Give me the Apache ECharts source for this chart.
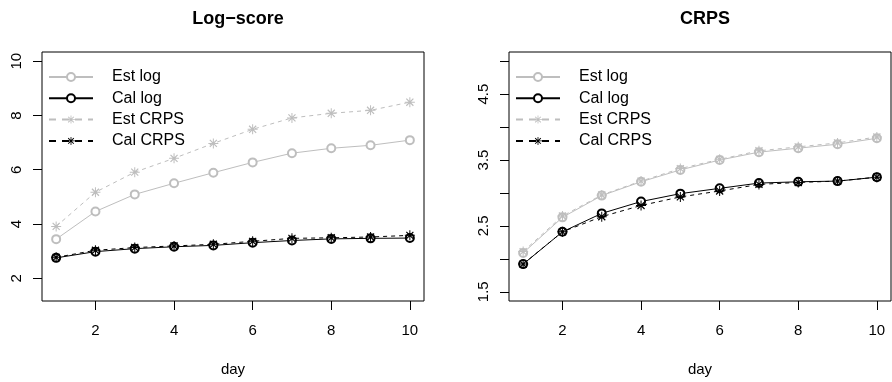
<!DOCTYPE html>
<html>
<head>
<meta charset="utf-8">
<script src="https://cdn.jsdelivr.net/npm/echarts@6/dist/echarts.min.js"></script>
</head>
<body style="margin:0">
<div id="main" style="width:892px;height:382px"></div>
<script>
// days on the x axis
var days = [1, 2, 3, 4, 5, 6, 7, 8, 9, 10];
var seriesNames = ['Est log', 'Cal log', 'Est CRPS', 'Cal CRPS'];

// left panel: Log-score
var logEstLog  = [3.44, 4.46, 5.09, 5.50, 5.89, 6.27, 6.61, 6.79, 6.90, 7.09];
var logCalLog  = [2.75, 2.98, 3.09, 3.16, 3.21, 3.31, 3.39, 3.45, 3.47, 3.48];
var logEstCrps = [3.91, 5.17, 5.91, 6.42, 6.97, 7.49, 7.91, 8.08, 8.19, 8.49];
var logCalCrps = [2.77, 3.03, 3.13, 3.19, 3.25, 3.36, 3.47, 3.49, 3.52, 3.58];

// right panel: CRPS
var crpsEstLog  = [2.09, 2.63, 2.96, 3.17, 3.35, 3.50, 3.62, 3.68, 3.74, 3.83];
var crpsCalLog  = [1.92, 2.41, 2.69, 2.87, 2.99, 3.07, 3.15, 3.17, 3.18, 3.24];
var crpsEstCrps = [2.11, 2.65, 2.97, 3.18, 3.37, 3.51, 3.64, 3.70, 3.76, 3.85];
var crpsCalCrps = [1.92, 2.41, 2.64, 2.81, 2.94, 3.03, 3.13, 3.16, 3.18, 3.24];

// tick values
var xTicks = [2, 4, 6, 8, 10];
var logTicks = [2, 4, 6, 8, 10];
var crpsTicks = [1.5, 2, 2.5, 3, 3.5, 4, 4.5, 5];
var crpsTickLabels = [1.5, 2.5, 3.5, 4.5];

var FONT = 'Liberation Sans';
var GRAY = '#bebebe';
// asterisk like R pch 8
var STAR = 'path://M9 0L11 0L11 20L9 20Z M0 9L20 9L20 11L0 11Z ' +
    'M2.1 3.8L3.8 2.1L17.9 16.2L16.2 17.9Z M16.2 2.1L17.9 3.8L3.8 17.9L2.1 16.2Z';

function pairs(v) {
    return days.map(function (d, i) { return [d, v[i]]; });
}

function mkSeries(idx, name, vals, color, dashed, star) {
    return {
        type: 'line',
        name: name,
        xAxisIndex: idx,
        yAxisIndex: idx,
        data: pairs(vals),
        symbol: star ? STAR : 'emptyCircle',
        symbolSize: star ? 10 : 8,
        showAllSymbol: true,
        animation: false,
        lineStyle: {color: color, width: 1, type: dashed ? [4, 4] : 'solid'},
        itemStyle: {color: color, borderWidth: 1}
    };
}

function mkX(idx) {
    return {
        type: 'value', gridIndex: idx, min: 0.64, max: 10.36,
        name: 'day', nameLocation: 'middle', nameGap: 61,
        nameTextStyle: {fontFamily: FONT, fontSize: 15, color: '#000'},
        axisLine: {show: false},
        splitLine: {show: false},
        axisTick: {show: true, inside: false, length: 9, customValues: xTicks,
            lineStyle: {color: '#000'}},
        axisLabel: {customValues: xTicks, margin: 22, fontFamily: FONT, fontSize: 15, color: '#000'}
    };
}

function mkY(idx, min, max, ticks, labels) {
    return {
        type: 'value', gridIndex: idx, min: min, max: max,
        axisLine: {show: false},
        splitLine: {show: false},
        axisTick: {show: true, inside: false, length: 9, customValues: ticks,
            lineStyle: {color: '#000'}},
        axisLabel: {customValues: labels, rotate: 90, margin: 18,
            fontFamily: FONT, fontSize: 15, color: '#000'}
    };
}

function mkLegend(left) {
    return {
        orient: 'vertical', left: left, top: 69, padding: 0,
        itemWidth: 44, itemHeight: 10, itemGap: 5.3,
        textStyle: {fontFamily: FONT, fontSize: 16, color: '#000', lineHeight: 16,
            padding: [0, 0, 0, 14]},
        data: [
            {name: seriesNames[0], lineStyle: {width: 2}},
            {name: seriesNames[1], lineStyle: {width: 2}},
            {name: seriesNames[2], lineStyle: {width: 2, type: [7, 6]}},
            {name: seriesNames[3], lineStyle: {width: 2, type: [7, 6]}}
        ]
    };
}

var chart = echarts.init(document.getElementById('main'));

var option = {
    backgroundColor: '#fff',
    title: [
        {text: 'Log\u2212score', left: 233, top: 5, textAlign: 'center',
            textStyle: {fontFamily: FONT, fontSize: 18, fontWeight: 'bold', color: '#000'}},
        {text: 'CRPS', left: 700, top: 5, textAlign: 'center',
            textStyle: {fontFamily: FONT, fontSize: 18, fontWeight: 'bold', color: '#000'}}
    ],
    grid: [
        {left: 42, top: 52, width: 382, height: 249, show: true,
            borderColor: '#000', borderWidth: 1, backgroundColor: 'transparent'},
        {left: 509, top: 52, width: 382, height: 249, show: true,
            borderColor: '#000', borderWidth: 1, backgroundColor: 'transparent'}
    ],
    legend: [],
    xAxis: [mkX(0), mkX(1)],
    yAxis: [mkY(0, 1.16, 10.34, logTicks, logTicks),
            mkY(1, 1.36, 5.14, crpsTicks, crpsTickLabels)],
    series: [
        mkSeries(0, 'Est log', logEstLog, GRAY, false, false),
        mkSeries(0, 'Cal log', logCalLog, '#000', false, false),
        mkSeries(0, 'Est CRPS', logEstCrps, GRAY, true, true),
        mkSeries(0, 'Cal CRPS', logCalCrps, '#000', true, true),
        mkSeries(1, 'Est log', crpsEstLog, GRAY, false, false),
        mkSeries(1, 'Cal log', crpsCalLog, '#000', false, false),
        mkSeries(1, 'Est CRPS', crpsEstCrps, GRAY, true, true),
        mkSeries(1, 'Cal CRPS', crpsCalCrps, '#000', true, true)
    ]
};
option.legend = [mkLegend(48), mkLegend(515)];

chart.setOption(option);
</script>
</body>
</html>
